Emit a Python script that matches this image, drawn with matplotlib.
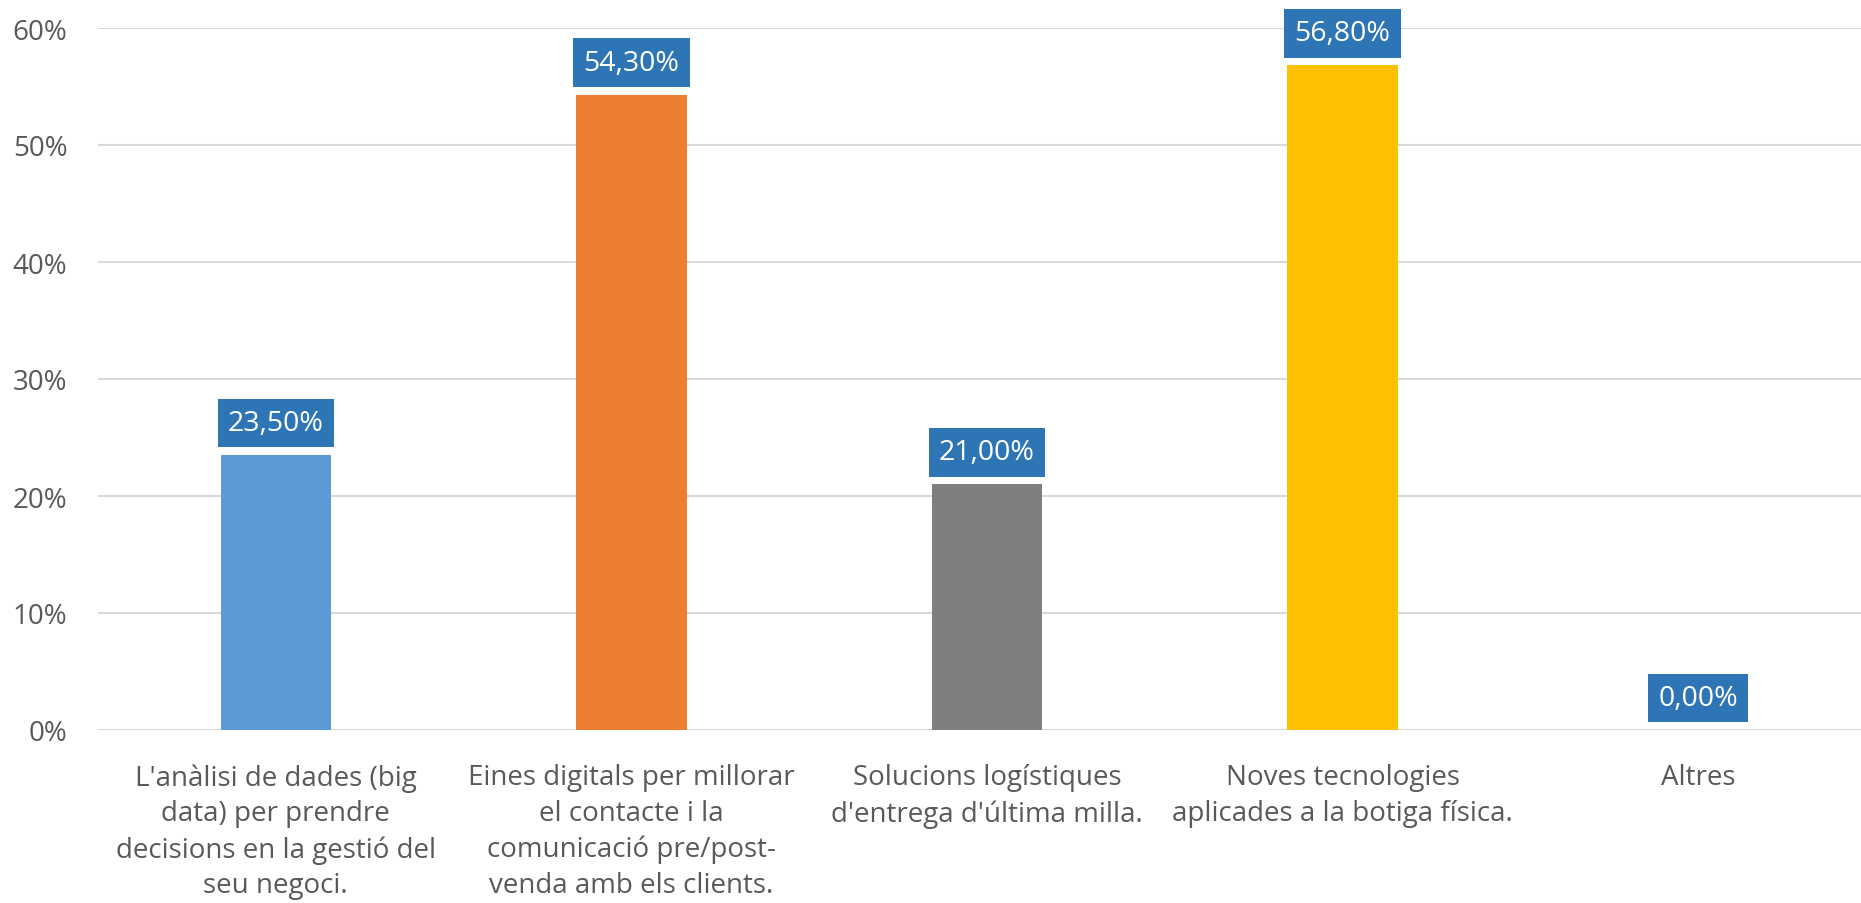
import matplotlib.pyplot as plt
from matplotlib.ticker import FuncFormatter

plt.rcParams["font.family"] = ["Open Sans", "DejaVu Sans"]

categories = [
    "L'anàlisi de dades (big\ndata) per prendre\ndecisions en la gestió del\nseu negoci.",
    "Eines digitals per millorar\nel contacte i la\ncomunicació pre/post-\nvenda amb els clients.",
    "Solucions logístiques\nd'entrega d'última milla.",
    "Noves tecnologies\naplicades a la botiga física.",
    "Altres",
]
values = [23.5, 54.3, 21.0, 56.8, 0.0]
colors = ["#5B9BD5", "#ED7D31", "#7F7F7F", "#FFC000", "#A5A5A5"]
yticks = [0, 10, 20, 30, 40, 50, 60]

text_color = "#595959"
box_color = "#2E75B6"

fig = plt.figure(figsize=(18.61, 9.04), dpi=100)
# axes run slightly past the right edge, as in the original export
ax = fig.add_axes([98 / 1861, (904 - 731) / 904, 1778 / 1861, (731 - 29) / 904])

x = list(range(len(categories)))
ax.bar(x, values, width=0.31, color=colors, zorder=3)

for xi, v in zip(x, values):
    ax.annotate(
        f"{v:.2f}%".replace(".", ","),
        xy=(xi, v),
        xytext=(0, 23),
        textcoords="offset points",
        ha="center",
        va="center",
        fontsize=20.5,
        color="white",
        bbox=dict(boxstyle="square,pad=0.36", fc=box_color, ec="none"),
        zorder=4,
    )

ax.set_xlim(-0.5, len(categories) - 0.5)
ax.set_ylim(0, 60)
ax.set_yticks(yticks)
ax.yaxis.set_major_formatter(FuncFormatter(lambda v, _: f"{v:.0f}%"))
ax.set_xticks(x)
ax.set_xticklabels(categories, fontsize=20, color=text_color, linespacing=1.36)
ax.tick_params(axis="y", labelsize=20, labelcolor=text_color, length=0, pad=22)
ax.tick_params(axis="x", length=0, pad=24)

ax.grid(axis="y", color="#D9D9D9", linewidth=1.5, zorder=0)
for spine in ax.spines.values():
    spine.set_visible(False)

fig.savefig("out.png", dpi=100)
